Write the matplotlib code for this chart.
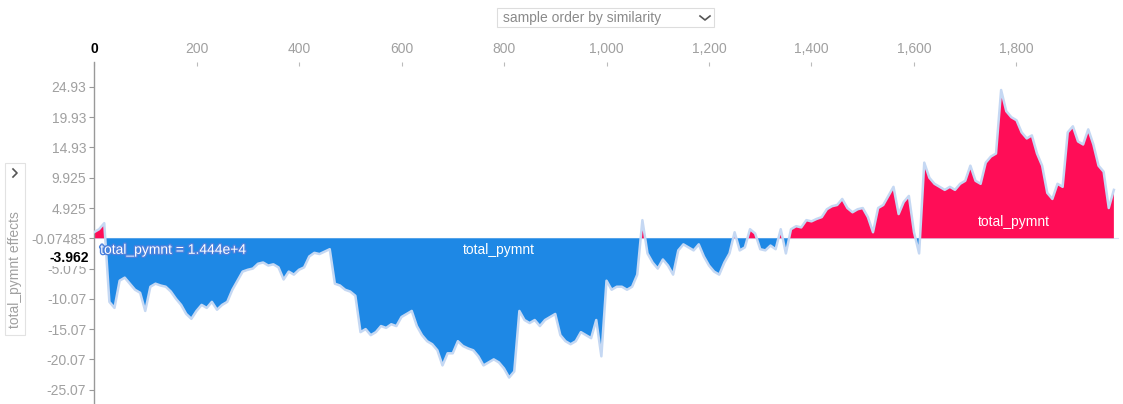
import matplotlib.pyplot as plt
import matplotlib.patheffects as pe
from matplotlib.lines import Line2D
from matplotlib.patches import Rectangle
import numpy as np

plt.rcParams['font.family'] = ['Liberation Sans', 'DejaVu Sans']

base_value = -0.07485
highlight_value = -3.962
step = 10  # samples per reading

# total_pymnt effect, read every ~10 samples (sample order by similarity)
effect = [
    1.0, 1.5, 2.5, -10.5, -11.5, -7.0, -6.5, -7.5, -8.5, -9.0,
    -12.0, -8.0, -7.5, -7.8, -8.0, -8.8, -10.0, -11.0, -12.5, -13.3,
    -12.0, -11.0, -11.5, -10.5, -11.8, -11.0, -10.5, -8.5, -7.0, -5.5,
    -5.2, -5.0, -4.2, -4.0, -4.5, -4.3, -4.8, -6.8, -5.5, -6.0,
    -5.2, -4.8, -3.0, -2.4, -2.6, -2.2, -1.8, -7.5, -7.8, -8.5,
    -8.8, -9.5, -15.5, -15.0, -16.0, -15.5, -14.5, -14.8, -14.2, -14.5,
    -13.0, -12.5, -12.0, -14.5, -16.0, -17.0, -17.5, -18.5, -21.0, -19.0,
    -19.0, -17.0, -17.8, -18.2, -18.5, -19.5, -21.0, -20.5, -20.0, -20.5,
    -21.5, -23.0, -22.0, -12.0, -13.5, -14.0, -13.5, -14.5, -13.5, -13.0,
    -12.5, -16.0, -17.0, -17.5, -17.0, -15.5, -16.0, -16.5, -13.5, -19.5,
    -7.0, -8.5, -8.0, -8.0, -8.5, -8.0, -6.0, 3.0, -2.5, -4.0,
    -5.0, -3.5, -4.5, -6.0, -2.0, -1.0, -1.5, -2.0, -1.0, -3.0,
    -4.5, -5.5, -6.0, -4.0, -2.5, 1.0, -2.0, -1.5, 1.5, 0.8,
    -1.8, -2.0, -1.2, -1.8, 1.5, -2.5, 1.5, 2.0, 1.8, 3.0,
    2.8, 3.2, 3.5, 4.8, 5.3, 5.5, 6.5, 5.0, 4.3, 4.8,
    5.0, 3.5, 1.0, 5.0, 5.5, 7.0, 8.5, 4.0, 6.0, 7.0,
    1.0, -2.5, 12.5, 10.0, 9.0, 8.5, 8.0, 8.5, 8.0, 9.0,
    9.5, 12.0, 9.5, 9.0, 12.5, 13.5, 14.0, 24.5, 21.0, 20.0,
    19.5, 17.5, 16.5, 17.0, 14.0, 12.0, 7.5, 6.5, 9.0, 8.5,
    17.5, 18.5, 16.0, 15.5, 18.0, 15.5, 12.0, 11.0, 5.0, 8.0,
]

ytick_vals = [24.93, 19.93, 14.93, 9.925, 4.925, -0.07485, -5.075, -10.07, -15.07, -20.07, -25.07]
ytick_labels = ['24.93', '19.93', '14.93', '9.925', '4.925', '-0.07485', '-5.075', '-10.07', '-15.07', '-20.07', '-25.07']
xtick_vals = [0, 200, 400, 600, 800, 1000, 1200, 1400, 1600, 1800]

x = np.arange(len(effect)) * step
y = base_value + np.array(effect)

fig = plt.figure(figsize=(11.23, 4.04), dpi=100)
ax = fig.add_axes([94 / 1123, 0, 1025 / 1123, 342 / 404])

red = '#ff0d57'
blue = '#1e88e5'
light = '#c5d8f3'
grey = '#a0a0a0'
fs = 10

ax.fill_between(x, base_value, y, where=y >= base_value, interpolate=True, color=red, lw=0, zorder=2)
ax.fill_between(x, base_value, y, where=y <= base_value, interpolate=True, color=blue, lw=0, zorder=2)
ax.plot(x, y, color=light, lw=1.8, zorder=3)
ax.axhline(base_value, color='#d8e4f5', lw=0.8, zorder=1)

ax.set_xlim(0, len(effect) * step)
ax.set_ylim(-27.45, 29.05)

ax.xaxis.tick_top()
ax.set_xticks(xtick_vals)
ax.set_xticklabels([f'{v:,}' for v in xtick_vals])
ax.tick_params(axis='x', direction='in', length=3, width=0.8, color='#bbbbbb',
               labelsize=fs, labelcolor=grey, pad=4)
ax.get_xticklabels()[0].set_color('black')
ax.get_xticklabels()[0].set_fontweight('bold')

ax.set_yticks(ytick_vals)
ax.set_yticklabels(ytick_labels)
ax.tick_params(axis='y', direction='out', length=3.5, width=0.8, color='#999999',
               labelsize=fs, labelcolor=grey, pad=2)

for s in ['top', 'right', 'bottom']:
    ax.spines[s].set_visible(False)
ax.spines['left'].set_color('#999999')
ax.spines['left'].set_linewidth(1)

# current value label on the axis
ax.text(-10, highlight_value, f'{highlight_value}', transform=ax.transData,
        ha='right', va='baseline', fontsize=fs, fontweight='bold', color='black',
        bbox=dict(facecolor='white', edgecolor='none', pad=1), zorder=5, clip_on=False)

# feature labels
ax.text(790, base_value - 2.0, 'total_pymnt', color='white', fontsize=fs, ha='center', va='center', zorder=4)
ax.text(1795, base_value + 2.7, 'total_pymnt', color='white', fontsize=fs, ha='center', va='center', zorder=4)
ax.text(12, base_value - 1.9, 'total_pymnt = 1.444e+4', color='white', fontsize=fs, ha='left', va='center',
        zorder=6, path_effects=[pe.withStroke(linewidth=2, foreground='#4a80dc')])

# y label selector box
fig.patches.append(Rectangle((5 / 1123, 1 - 335 / 404), 20 / 1123, 172 / 404, transform=fig.transFigure,
                             facecolor='white', edgecolor='#e2e2e2', lw=0.8))
fig.text(15 / 1123, 1 - 270 / 404, 'total_pymnt effects', rotation=90, ha='center', va='center',
         fontsize=fs, color=grey)
fig.lines.append(Line2D([13 / 1123, 17 / 1123, 13 / 1123], [1 - 169 / 404, 1 - 173 / 404, 1 - 177 / 404],
                        transform=fig.transFigure, color='#555555', lw=1.2))

# sort order dropdown
fig.patches.append(Rectangle((497 / 1123, 1 - 27 / 404), 217 / 1123, 19 / 404, transform=fig.transFigure,
                             facecolor='white', edgecolor='#dddddd', lw=0.8))
fig.text(503 / 1123, 1 - 18 / 404, 'sample order by similarity', ha='left', va='center',
         fontsize=fs, color='#8a8a8a')
fig.lines.append(Line2D([700 / 1123, 705 / 1123, 710 / 1123], [1 - 16 / 404, 1 - 20 / 404, 1 - 16 / 404],
                        transform=fig.transFigure, color='#555555', lw=1.2))

fig.savefig('out.png', dpi=100)
